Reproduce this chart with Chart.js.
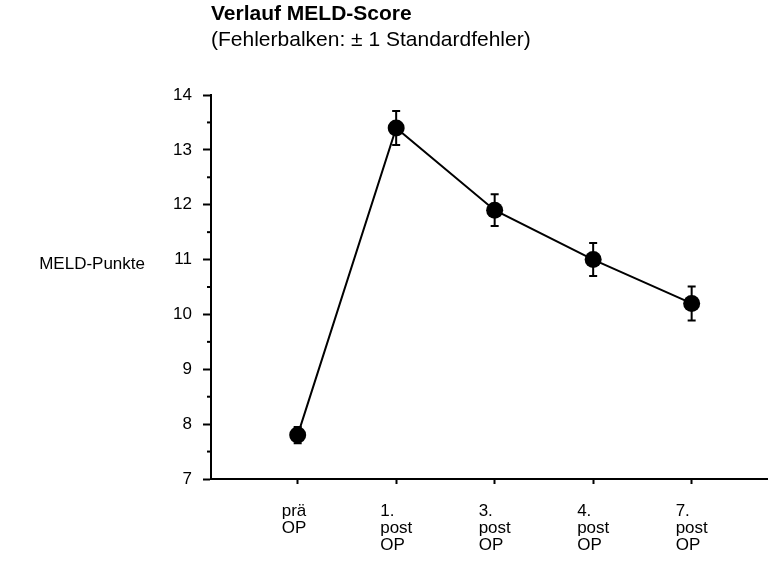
<!DOCTYPE html>
<html>
<head>
<meta charset="utf-8">
<script src="https://cdn.jsdelivr.net/npm/chart.js@4.4.1/dist/chart.umd.min.js"></script>
<style>
    html, body { margin: 0; padding: 0; background: #ffffff; }
</style>
</head>
<body>
<canvas id="chartMeld" width="776" height="571"></canvas>
<script>
// Daten
const zeitpunkte = [['prä', 'OP'], ['1.', 'post', 'OP'], ['3.', 'post', 'OP'], ['4.', 'post', 'OP'], ['7.', 'post', 'OP']];
const zeitWerte = [0, 1, 2, 3, 4];
const meldMittel = [7.8, 13.4, 11.9, 11.0, 10.2];
const meldFehler = [0.15, 0.31, 0.29, 0.30, 0.31];
const yTicks = [7, 8, 9, 10, 11, 12, 13, 14];
const yMinorTicks = [7.5, 8.5, 9.5, 10.5, 11.5, 12.5, 13.5];

Chart.defaults.font.family = "'Liberation Sans', Arial, sans-serif";
Chart.defaults.color = '#000000';

// Fehlerbalken (± 1 SE) ueber die Skalen gezeichnet
const fehlerbalken = {
    id: 'fehlerbalken',
    beforeDatasetsDraw(chart) {
        const { ctx, scales: { x, y } } = chart;
        ctx.save();
        ctx.strokeStyle = '#000000';
        ctx.lineWidth = 2;
        meldMittel.forEach((m, i) => {
            const px = x.getPixelForValue(zeitWerte[i]);
            const top = y.getPixelForValue(m + meldFehler[i]);
            const bot = y.getPixelForValue(m - meldFehler[i]);
            ctx.beginPath();
            ctx.moveTo(px, top); ctx.lineTo(px, bot);
            ctx.moveTo(px - 4, top); ctx.lineTo(px + 4, top);
            ctx.moveTo(px - 4, bot); ctx.lineTo(px + 4, bot);
            ctx.stroke();
        });
        ctx.restore();
    }
};

// kleine Zwischenstriche auf der y-Achse und Achsentitel
const achsenExtras = {
    id: 'achsenExtras',
    afterDraw(chart) {
        const { ctx, chartArea, scales: { y } } = chart;
        ctx.save();
        ctx.strokeStyle = '#000000';
        ctx.lineWidth = 2;
        yMinorTicks.forEach(v => {
            const py = y.getPixelForValue(v);
            ctx.beginPath();
            ctx.moveTo(chartArea.left - 4, py);
            ctx.lineTo(chartArea.left, py);
            ctx.stroke();
        });
        ctx.fillStyle = '#000000';
        ctx.font = "17px 'Liberation Sans', Arial, sans-serif";
        ctx.textAlign = 'right';
        ctx.textBaseline = 'middle';
        ctx.fillText('MELD-Punkte', chartArea.left - 66, 264);
        ctx.restore();
    }
};

new Chart(document.getElementById('chartMeld'), {
    type: 'line',
    data: {
        datasets: [{
            label: 'MELD-Score',
            data: meldMittel.map((v, i) => ({ x: zeitWerte[i], y: v })),
            borderColor: '#000000',
            borderWidth: 2,
            pointRadius: 8.5,
            pointBackgroundColor: '#000000',
            pointBorderWidth: 0,
            tension: 0,
            clip: false
        }]
    },
    options: {
        responsive: false,
        animation: false,
        layout: { padding: { left: 161, top: 0, right: 0, bottom: 0 } },
        scales: {
            x: {
                type: 'linear',
                min: -0.88,
                max: 4.77,
                afterBuildTicks: (scale) => { scale.ticks = zeitWerte.map(v => ({ value: v })); },
                afterFit: (scale) => { scale.height = 92; scale.paddingLeft = 0; scale.paddingRight = 0; },
                ticks: {
                    callback: (v) => zeitpunkte[v],
                    align: 'start',
                    labelOffset: -16,
                    padding: 19,
                    autoSkip: false,
                    maxRotation: 0,
                    font: { size: 17, lineHeight: 1.0 },
                    color: '#000000'
                },
                grid: { drawOnChartArea: false, tickLength: 5, tickWidth: 2, color: '#000000' },
                border: { color: '#000000', width: 2 }
            },
            y: {
                min: 7,
                max: 14,
                afterBuildTicks: (scale) => { scale.ticks = yTicks.map(v => ({ value: v })); },
                afterFit: (scale) => { scale.width = 50; },
                ticks: { padding: 11, font: { size: 17 }, color: '#000000' },
                grid: { drawOnChartArea: false, tickLength: 8, tickWidth: 2, color: '#000000' },
                border: { color: '#000000', width: 2 }
            }
        },
        plugins: {
            legend: { display: false },
            tooltip: { enabled: false },
            title: {
                display: true,
                text: 'Verlauf MELD-Score',
                align: 'start',
                fullSize: false,
                color: '#000000',
                font: { size: 21, weight: 'bold' },
                padding: { top: 2, bottom: 0 }
            },
            subtitle: {
                display: true,
                text: '(Fehlerbalken: ± 1 Standardfehler)',
                align: 'start',
                fullSize: false,
                color: '#000000',
                font: { size: 21 },
                padding: { top: 0, bottom: 42.6 }
            }
        }
    },
    plugins: [fehlerbalken, achsenExtras]
});
</script>
</body>
</html>
